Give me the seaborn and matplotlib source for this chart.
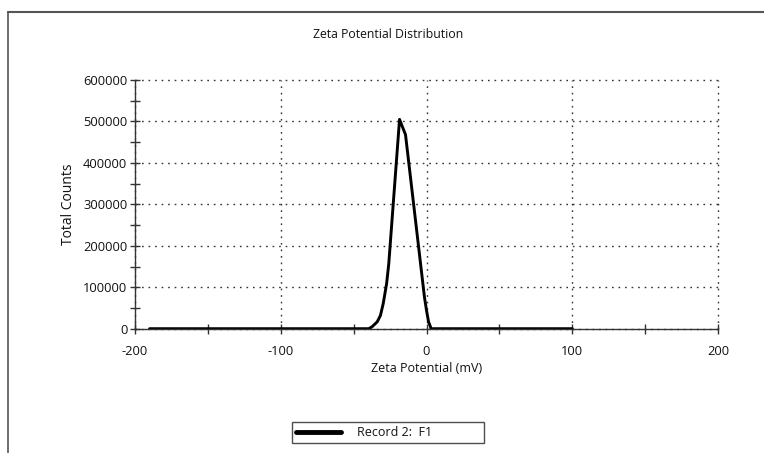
import matplotlib
matplotlib.use("Agg")
import matplotlib.pyplot as plt
from matplotlib.lines import Line2D
from matplotlib.ticker import MultipleLocator
import seaborn as sns
import pandas as pd

# Data
zeta_mv = [-190, -39.6, -37.3, -33.8, -31.6, -29.7, -27.4, -25.9, -18.5,
           -14.4, -1.4, 0.0, 1.4, 3.2, 100]
total_counts = [0, 0, 4800, 16700, 32000, 60500, 108000, 156000, 505000,
                468000, 76000, 44500, 16700, 0, 0]
series_name = "Record 2:  F1"
x_ticks = [-200, -100, 0, 100, 200]
y_ticks = [0, 100000, 200000, 300000, 400000, 500000, 600000]

df = pd.DataFrame({"Zeta Potential (mV)": zeta_mv, "Total Counts": total_counts,
                   "Record": series_name})

sns.set_theme(style="white")
plt.rcParams["font.family"] = ["Open Sans", "DejaVu Sans"]
plt.rcParams["text.color"] = "#111111"
plt.rcParams["axes.labelcolor"] = "#111111"
plt.rcParams["xtick.color"] = "#111111"
plt.rcParams["ytick.color"] = "#111111"

fig = plt.figure(figsize=(7.64, 4.53), dpi=100)
ax = fig.add_axes([135 / 764, 1 - 328.7 / 453, (718 - 135) / 764, (328.7 - 80) / 453])

sns.lineplot(data=df, x="Zeta Potential (mV)", y="Total Counts", hue="Record",
             palette=["black"], linewidth=2.1, ax=ax, legend=False)

ax.set_xlim(-200, 200)
ax.set_ylim(0, 600000)
ax.set_xticks(x_ticks)
ax.set_yticks(y_ticks)
ax.set_xticklabels([str(t) for t in x_ticks], fontsize=9.3)
ax.set_yticklabels([str(t) for t in y_ticks], fontsize=9.3)
ax.xaxis.set_minor_locator(MultipleLocator(50))
ax.yaxis.set_minor_locator(MultipleLocator(50000))
ax.tick_params(axis="both", which="both", direction="inout", length=7,
               width=1, color="#333333", bottom=True, left=True)
ax.tick_params(axis="x", which="major", pad=8)
ax.tick_params(axis="y", which="major", pad=2)

ax.grid(True, which="major", linestyle=(0, (1.2, 3.5)), color="#333333",
        linewidth=1.0)
for gl in ax.get_xgridlines() + ax.get_ygridlines():
    gl.set_clip_on(False)

for s in ["top", "right"]:
    ax.spines[s].set_visible(False)
for s in ["left", "bottom"]:
    ax.spines[s].set_color("#333333")
    ax.spines[s].set_linewidth(1.0)

ax.set_xlabel("Zeta Potential (mV)", fontsize=9, labelpad=3)
ax.set_ylabel("Total Counts", fontsize=10, labelpad=5)

fig.text(388 / 764, 1 - 35 / 453, "Zeta Potential Distribution", fontsize=8.8,
         ha="center", va="center")

handle = Line2D([], [], color="black", linewidth=3.5)
leg = fig.legend([handle], [series_name], loc="center left",
                 bbox_to_anchor=(292 / 764, 1 - 443 / 453, 192 / 764, 21 / 453),
                 mode="expand", frameon=True,
                 fancybox=False, edgecolor="#222222", fontsize=9,
                 handlelength=3.6, handletextpad=1.3, borderpad=0.3,
                 borderaxespad=0)
leg.get_frame().set_linewidth(1.0)

# outer frame (left and top edges visible)
fig.add_artist(Line2D([8 / 764, 8 / 764], [0, 1 - 12 / 453], color="#555555",
                      linewidth=1.2, transform=fig.transFigure))
fig.add_artist(Line2D([8 / 764, 1], [1 - 12 / 453, 1 - 12 / 453], color="#555555",
                      linewidth=1.5, transform=fig.transFigure))

fig.savefig("out.png", dpi=100, facecolor="white")
